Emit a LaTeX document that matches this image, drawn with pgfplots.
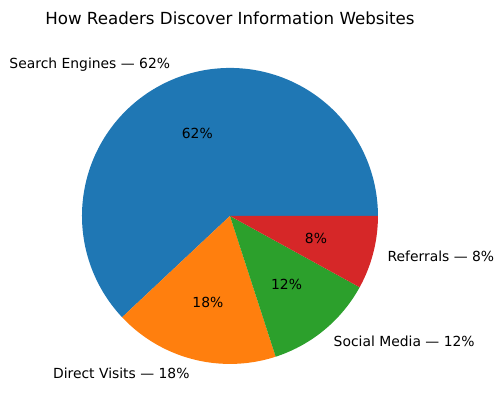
\documentclass[border=0pt]{standalone}
\usepackage{fontspec}
\setmainfont{DejaVu Sans}
\usepackage{pgfplots}
\pgfplotsset{compat=1.18}

\definecolor{c1}{HTML}{1F77B4}
\definecolor{c2}{HTML}{FF7F0E}
\definecolor{c3}{HTML}{2CA02C}
\definecolor{c4}{HTML}{D62728}

\tikzset{lbl/.style={font=\fontsize{10}{12}\selectfont, inner sep=0pt, outer sep=0pt}}

\begin{document}
\begin{tikzpicture}
\begin{axis}[
    scale only axis,
    width=362.16pt, height=295.92pt,
    xmin=-1.554, xmax=1.845,
    ymin=-1.318, ymax=1.459,
    hide axis, clip=false,
]
% shares in percent: 62, 18, 12, 8 (start at 0 deg, counterclockwise)
\addplot[fill=c1, draw=none, domain=0:62*3.6, samples=150] ({cos(x)},{sin(x)}) -- (0,0) -- cycle;
\addplot[fill=c2, draw=none, domain=62*3.6:80*3.6, samples=50] ({cos(x)},{sin(x)}) -- (0,0) -- cycle;
\addplot[fill=c3, draw=none, domain=80*3.6:92*3.6, samples=40] ({cos(x)},{sin(x)}) -- (0,0) -- cycle;
\addplot[fill=c4, draw=none, domain=92*3.6:100*3.6, samples=30] ({cos(x)},{sin(x)}) -- (0,0) -- cycle;

% outer labels at 1.1 r
\node[lbl, anchor=east] at (axis cs:{1.1*cos(31*3.6)},{1.1*sin(31*3.6)}) {Search Engines — 62\%};
\node[lbl, anchor=east] at (axis cs:{1.1*cos(71*3.6)},{1.1*sin(71*3.6)}) {Direct Visits — 18\%};
\node[lbl, anchor=west] at (axis cs:{1.1*cos(86*3.6)},{1.1*sin(86*3.6)}) {Social Media — 12\%};
\node[lbl, anchor=west] at (axis cs:{1.1*cos(96*3.6)},{1.1*sin(96*3.6)}) {Referrals — 8\%};

% inner percentages at 0.6 r
\node[lbl] at (axis cs:{0.6*cos(31*3.6)},{0.6*sin(31*3.6)}) {62\%};
\node[lbl] at (axis cs:{0.6*cos(71*3.6)},{0.6*sin(71*3.6)}) {18\%};
\node[lbl] at (axis cs:{0.6*cos(86*3.6)},{0.6*sin(86*3.6)}) {12\%};
\node[lbl] at (axis cs:{0.6*cos(96*3.6)},{0.6*sin(96*3.6)}) {8\%};

\node[lbl, font=\fontsize{12}{14}\selectfont] at (axis cs:0,1.338) {How Readers Discover Information Websites};

\path (axis cs:-1.554,-1.318) rectangle (axis cs:1.845,1.459);
\end{axis}
\end{tikzpicture}
\end{document}
